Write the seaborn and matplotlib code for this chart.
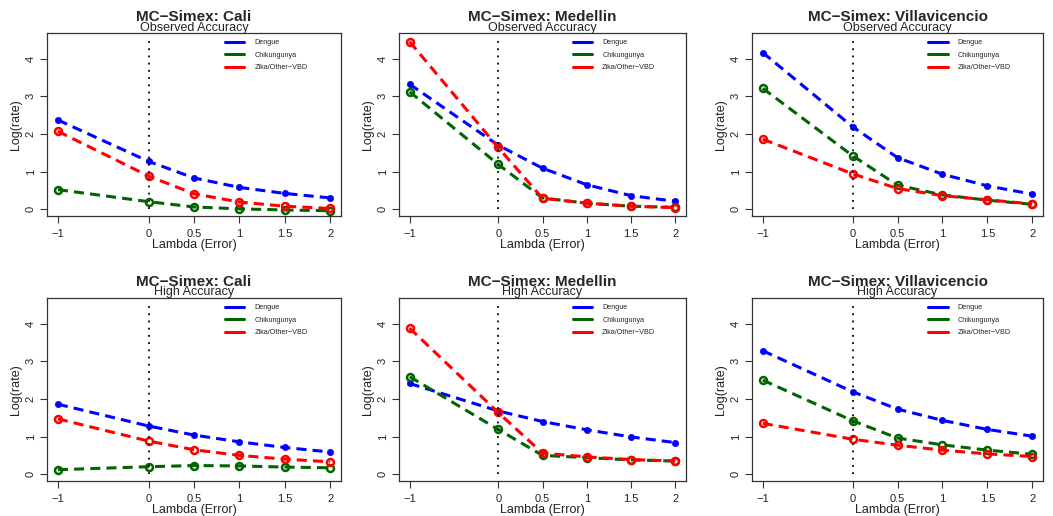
import numpy as np
import pandas as pd
import matplotlib
matplotlib.use("Agg")
import matplotlib.pyplot as plt
from matplotlib.lines import Line2D
import seaborn as sns

sns.set_style("white")
plt.rcParams["font.family"] = ["Liberation Sans", "DejaVu Sans"]
plt.rcParams["axes.unicode_minus"] = True

# =========================
# DATOS
# =========================
lambdas = [-1, 0, 0.5, 1, 1.5, 2]
cities = ["Cali", "Medellin", "Villavicencio"]
accuracies = ["Observed Accuracy", "High Accuracy"]
diseases = ["Dengue", "Chikungunya", "Zika/Other\u2212VBD"]
colors = ["#0000FF", "#006400", "#FF0000"]

# Observed accuracy
cali_obs_dengue = [2.37, 1.27, 0.83, 0.58, 0.42, 0.30]
cali_obs_chik = [0.52, 0.20, 0.06, 0.01, -0.02, -0.04]
cali_obs_zika = [2.07, 0.88, 0.41, 0.19, 0.08, 0.02]

med_obs_dengue = [3.32, 1.70, 1.09, 0.65, 0.36, 0.21]
med_obs_chik = [3.12, 1.19, 0.30, 0.16, 0.08, 0.05]
med_obs_zika = [4.45, 1.64, 0.29, 0.16, 0.08, 0.04]

vil_obs_dengue = [4.16, 2.19, 1.37, 0.93, 0.62, 0.40]
vil_obs_chik = [3.21, 1.42, 0.64, 0.38, 0.24, 0.13]
vil_obs_zika = [1.86, 0.94, 0.55, 0.36, 0.25, 0.14]

# High accuracy
cali_high_dengue = [1.86, 1.28, 1.04, 0.86, 0.71, 0.59]
cali_high_chik = [0.12, 0.20, 0.23, 0.22, 0.19, 0.17]
cali_high_zika = [1.47, 0.88, 0.65, 0.50, 0.40, 0.33]

med_high_dengue = [2.41, 1.68, 1.40, 1.18, 0.99, 0.84]
med_high_chik = [2.59, 1.19, 0.50, 0.44, 0.38, 0.35]
med_high_zika = [3.88, 1.64, 0.56, 0.46, 0.39, 0.35]

vil_high_dengue = [3.28, 2.19, 1.73, 1.43, 1.19, 1.01]
vil_high_chik = [2.50, 1.42, 0.96, 0.78, 0.64, 0.53]
vil_high_zika = [1.35, 0.93, 0.77, 0.64, 0.54, 0.47]

panels = {
    ("Observed Accuracy", "Cali"): [cali_obs_dengue, cali_obs_chik, cali_obs_zika],
    ("Observed Accuracy", "Medellin"): [med_obs_dengue, med_obs_chik, med_obs_zika],
    ("Observed Accuracy", "Villavicencio"): [vil_obs_dengue, vil_obs_chik, vil_obs_zika],
    ("High Accuracy", "Cali"): [cali_high_dengue, cali_high_chik, cali_high_zika],
    ("High Accuracy", "Medellin"): [med_high_dengue, med_high_chik, med_high_zika],
    ("High Accuracy", "Villavicencio"): [vil_high_dengue, vil_high_chik, vil_high_zika],
}

# =========================
# FIGURA
# =========================
W, H = 1053, 516
fig = plt.figure(figsize=(W / 100, H / 100), dpi=100)

rows_px = [(33, 216), (298, 481)]
cols_px = [(47, 341), (399, 686), (752, 1043)]

dash = (0, (3.3, 2.0))

for r, acc in enumerate(accuracies):
    for c, city in enumerate(cities):
        top, bot = rows_px[r]
        left, right = cols_px[c]
        hgt = bot - top
        ax = fig.add_axes([left / W, 1 - bot / H, (right - left) / W, hgt / H])
        series = panels[(acc, city)]
        for i, (name, vals) in enumerate(zip(diseases, series)):
            df = pd.DataFrame({"lambda": lambdas, "rate": vals})
            if i == 0:
                mk = dict(marker="o", markersize=4.5, markerfacecolor=colors[i],
                          markeredgecolor=colors[i], markeredgewidth=0.5)
            else:
                mk = dict(marker="o", markersize=5, markerfacecolor="none",
                          markeredgecolor=colors[i], markeredgewidth=1.8)
            sns.lineplot(data=df, x="lambda", y="rate", ax=ax, color=colors[i],
                         linestyle=dash, linewidth=2.2, **mk)

        ax.vlines(0, 0, 4.5, colors="black", linestyles=(0, (1, 3)), linewidth=1.3)

        ax.set_xlim(-1.12, 2.12)
        ax.set_ylim(-0.18, 4.68)
        ax.set_xticks(lambdas)
        ax.set_xticklabels(["\u22121", "0", "0.5", "1", "1.5", "2"])
        ax.set_yticks([0, 1, 2, 3, 4])
        ax.tick_params(axis="both", direction="out", length=5, width=0.8,
                       labelsize=8, color="#333333", bottom=True, left=True,
                       labelcolor="#222222")
        ax.tick_params(axis="x", pad=4.5)
        ax.tick_params(axis="y", pad=3)
        for lab in ax.get_yticklabels():
            lab.set_rotation(90)
            lab.set_va("center")
        for s in ax.spines.values():
            s.set_color("#333333")
            s.set_linewidth(0.9)

        ax.set_xlabel("Lambda (Error)", fontsize=9, labelpad=-0.5, color="#222222")
        ax.set_ylabel("Log(rate)", fontsize=9, labelpad=3, color="#222222")

        ax.text(0.5, 1 + 12.5 / hgt, f"MC\u2212Simex: {city}", transform=ax.transAxes,
                ha="center", va="baseline", fontsize=11, fontweight="bold")
        ax.text(0.5, 1 + 2.5 / hgt, acc, transform=ax.transAxes, ha="center",
                va="baseline", fontsize=9, color="#222222")

        handles = [Line2D([0], [0], color=col, linewidth=2.2) for col in colors]
        ax.legend(handles, diseases, loc="upper left", bbox_to_anchor=(0.605, 0.965),
                  frameon=False, fontsize=5.2, handlelength=2.7, handletextpad=1.4,
                  labelspacing=0.75, borderaxespad=0, borderpad=0)

fig.savefig("out.png", dpi=100)
